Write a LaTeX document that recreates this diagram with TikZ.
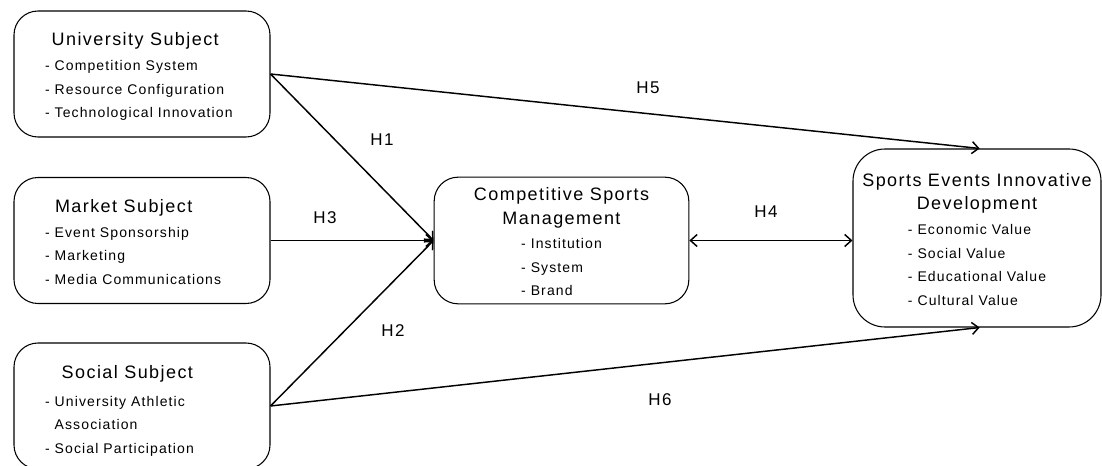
\documentclass[tikz,border=0pt]{standalone}
\usepackage{fontspec}
\setmainfont{Liberation Sans}[LetterSpace=8]
\usetikzlibrary{arrows.meta}
\tikzset{
  subj/.style={draw, rounded corners=18pt, line width=0.8pt, minimum width=192pt,
    minimum height=94.5pt, inner sep=0pt, font=\fontsize{10.5}{17.6}\selectfont},
  hyp/.style={font=\fontsize{12.75}{15}\selectfont},
}
\newcommand{\hd}{\fontsize{13.5}{17}\selectfont}
\newcommand{\topgap}{\rule{0pt}{16.8pt}}
\begin{document}
\begin{tikzpicture}[x=0.75pt,y=-0.75pt,line width=1.1pt,
  >={Straight Barb[length=5pt,width=9pt]}]
\useasboundingbox (0,0) rectangle (1102,466);
% the three subjects
\node[subj] (uni) at (142,74) {\begin{tabular}{@{}p{145.5pt}@{}}
  \topgap\hspace*{5pt}{\hd University Subject}\\[1pt]
  - Competition System\\- Resource Configuration\\- Technological Innovation
  \end{tabular}};
\node[subj] (mkt) at (142,240.5) {\begin{tabular}{@{}p{145.5pt}@{}}
  \topgap\hspace*{7.5pt}{\hd Market Subject}\\[1pt]
  - Event Sponsorship\\- Marketing\\- Media Communications
  \end{tabular}};
\node[subj] (soc) at (142,406) {\begin{tabular}{@{}p{145.5pt}@{}}
  \rule{0pt}{20pt}\hspace*{12.5pt}{\hd Social Subject}\\[3pt]
  - University Athletic\\\hphantom{- }Association\\- Social Participation
  \end{tabular}};
% management and development
\node[subj, minimum width=191pt, minimum height=95pt] (csm) at (561.5,240.5) {\begin{tabular}{@{}c@{}}
  \topgap{\hd Competitive Sports}\\[0.6pt]
  {\hd Management}\\[0.5pt]
  \begin{tabular}[t]{@{}l@{}}- Institution\\- System\\- Brand\end{tabular}
  \end{tabular}};
\node[subj, rounded corners=24pt, minimum width=186pt, minimum height=133.5pt] (sed) at (977,238) {\begin{tabular}{@{}c@{}}
  \topgap{\hd Sports Events Innovative}\\
  {\hd Development}\\[1.5pt]
  \begin{tabular}[t]{@{}l@{}}- Economic Value\\- Social Value\\- Educational Value\\- Cultural Value\end{tabular}
  \end{tabular}};
% hypotheses
\draw[->] (uni.east) -- (csm.west);
\draw[->] (mkt.east) -- (csm.west);
\draw[->] (soc.east) -- (csm.west);
\draw[<->] (csm.east) -- (csm.east -| sed.west);
\draw[->] (uni.east) -- ([xshift=2pt]sed.north);
\draw[->] (soc.east) -- ([xshift=2pt]sed.south);
\node[hyp] (h1) at (382,140) {H1};
\node[hyp] (h2) at (393,331) {H2};
\node[hyp] (h3) at (325,218) {H3};
\node[hyp] (h4) at (766,212) {H4};
\node[hyp] (h5) at (648,88) {H5};
\node[hyp] (h6) at (660,400) {H6};
\end{tikzpicture}
\end{document}
